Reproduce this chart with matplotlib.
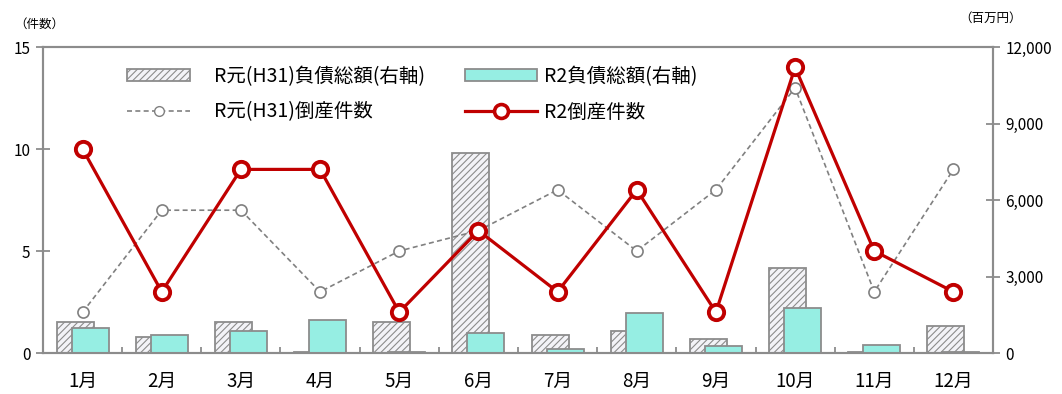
import matplotlib
matplotlib.use("Agg")
import matplotlib.pyplot as plt
import numpy as np
from matplotlib.patches import Patch
from matplotlib.lines import Line2D

plt.rcParams['font.family'] = ['Noto Sans CJK JP', 'DejaVu Sans']
plt.rcParams['hatch.color'] = '#dadadf'
plt.rcParams['hatch.linewidth'] = 0.8

months = ['1月', '2月', '3月', '4月', '5月', '6月', '7月', '8月', '9月', '10月', '11月', '12月']
debt_prev = [1200, 640, 1200, 50, 1200, 7850, 700, 860, 560, 3320, 50, 1060]
debt_cur = [1000, 700, 850, 1300, 50, 770, 170, 1580, 260, 1750, 330, 50]
count_prev = [2, 7, 7, 3, 5, 6, 8, 5, 8, 13, 3, 9]
count_cur = [10, 3, 9, 9, 2, 6, 3, 8, 2, 14, 5, 3]

label_debt_prev = 'R元(H31)負債総額(右軸)'
label_debt_cur = 'R2負債総額(右軸)'
label_count_prev = 'R元(H31)倒産件数'
label_count_cur = 'R2倒産件数'

axis_gray = '#8c8c8c'
cyan = '#96eee3'
red = '#c00000'
hatch_face = '#f3f3f7'

fig = plt.figure(figsize=(10.62, 3.94), dpi=100)
ax = fig.add_axes([43/1062, 1-353/394, 950/1062, 306/394])
ax2 = ax.twinx()

x = np.arange(len(months))
w = 0.467
off = 0.095
ax2.bar(x - off, debt_prev, width=w, facecolor=hatch_face, edgecolor=axis_gray,
        linewidth=1.3, hatch='/////', zorder=2)
ax2.bar(x + off, debt_cur, width=w, facecolor=cyan, edgecolor=axis_gray,
        linewidth=1.3, zorder=3)
ax2.set_ylim(0, 12000)
ax2.set_yticks([0, 3000, 6000, 9000, 12000])
ax2.set_yticklabels(['0', '3,000', '6,000', '9,000', '12,000'])

ax.plot(x, count_prev, color='#808080', linestyle=(0, (3, 2)), linewidth=1.2,
        marker='o', markersize=8, markerfacecolor='white', markeredgecolor='#808080',
        markeredgewidth=1.2, zorder=3)
ax.plot(x, count_cur, color=red, linewidth=2.3, marker='o', markersize=11,
        markerfacecolor='white', markeredgecolor=red, markeredgewidth=2.8, zorder=4)
ax.set_ylim(0, 15)
ax.set_yticks([0, 5, 10, 15])
ax.set_xlim(-0.5, 11.5)
ax.set_xticks(x)
ax.set_xticklabels(months, fontsize=13.5)
ax.set_xticks(np.arange(-0.5, 12, 1), minor=True)
ax.tick_params(axis='x', which='major', length=0, pad=13)
ax.tick_params(axis='x', which='minor', length=4, direction='in', color=axis_gray, width=1.3)
ax.tick_params(axis='y', direction='inout', length=10, color=axis_gray, width=1.3, labelsize=11, pad=4)
ax2.tick_params(axis='y', direction='inout', length=10, color=axis_gray, width=1.3, labelsize=11, pad=4)

ax.set_zorder(ax2.get_zorder() + 1)
ax.patch.set_visible(False)

for a in (ax, ax2):
    for s in a.spines.values():
        s.set_color(axis_gray)
        s.set_linewidth(1.5)

fig.text(14/1062, 1-24/394, '（件数）', fontsize=9, ha='left', va='center')
fig.text(1022/1062, 1-18/394, '（百万円）', fontsize=9, ha='right', va='center')

h_debt_prev = Patch(facecolor=hatch_face, edgecolor=axis_gray, hatch='/////', linewidth=1.3)
h_count_prev = Line2D([], [], color='#808080', linestyle=(0, (3, 2)), linewidth=1.2, marker='o',
                      markersize=7, markerfacecolor='white', markeredgecolor='#808080')
h_debt_cur = Patch(facecolor=cyan, edgecolor=axis_gray, linewidth=1.3)
h_count_cur = Line2D([], [], color=red, linewidth=2.3, marker='o', markersize=10,
                     markerfacecolor='white', markeredgecolor=red, markeredgewidth=2.6)

common = dict(loc='upper left', frameon=False, fontsize=14, handleheight=0.6,
              labelspacing=0.75, borderpad=0, borderaxespad=0,
              bbox_transform=fig.transFigure)
leg1 = ax.legend([h_debt_prev, h_count_prev], [label_debt_prev, label_count_prev],
                 bbox_to_anchor=(127/1062, 1-66/394), handlelength=3.25,
                 handletextpad=1.2, **common)
ax.add_artist(leg1)
leg2 = ax.legend([h_debt_cur, h_count_cur], [label_debt_cur, label_count_cur],
                 bbox_to_anchor=(465/1062, 1-66/394), handlelength=3.7,
                 handletextpad=0.35, **common)

fig.savefig('out.png', dpi=100)
